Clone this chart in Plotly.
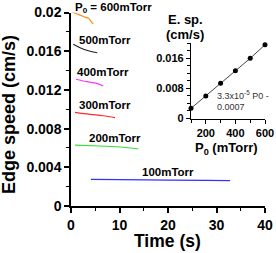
import plotly.graph_objects as go

# ---- data ----
t600 = [0.1, 1.0, 2.0, 3.0, 3.6, 4.1, 4.6]
v600 = [0.0201, 0.0199, 0.0197, 0.0195, 0.0194, 0.0191, 0.0188]
t500 = [0.47, 1.86, 3.57, 5.42]
v500 = [0.01671, 0.01636, 0.01605, 0.01584]
t400 = [1.03, 3.24, 5.3, 6.66]
v400 = [0.01310, 0.01285, 0.01268, 0.01240]
t300 = [0.82, 3.92, 6.66, 9.07]
v300 = [0.00968, 0.00948, 0.00933, 0.00913]
t200 = [0.82, 5.98, 10.1, 13.9]
v200 = [0.00630, 0.00620, 0.00610, 0.00589]
t100 = [4.1, 10.0, 20.0, 28.0, 32.8]
v100 = [0.00276, 0.00272, 0.00268, 0.00265, 0.00262]

pressures = [100, 200, 300, 400, 500, 600]
speeds = [0.0027, 0.0060, 0.0094, 0.0127, 0.0160, 0.0196]

main_yticks = [0, 0.004, 0.008, 0.012, 0.016, 0.02]
main_yticktext = ["0", "0.004", "0.008", "0.012", "0.016", "0.02"]
main_xticks = [0, 10, 20, 30, 40]
inset_yticks = [0, 0.008, 0.016]
inset_yticktext = ["0", "0.008", "0.016"]
inset_xticks = [200, 400, 600]

W, H = 276, 253
def px(x):
    return x / W
def py(y):
    return (H - y) / H

FONT = "Liberation Sans"

fig = go.Figure()
series = [
    (t600, v600, "#ff8c1a"),
    (t500, v500, "#222222"),
    (t400, v400, "#ff33ff"),
    (t300, v300, "#ff2a2a"),
    (t200, v200, "#33e033"),
    (t100, v100, "#3333ff"),
]
for t, v, c in series:
    fig.add_trace(go.Scatter(x=t, y=v, mode="lines", line=dict(color=c, width=1.2),
                             line_shape="spline", xaxis="x", yaxis="y", showlegend=False,
                             cliponaxis=False))

fig.add_trace(go.Scatter(x=pressures, y=speeds, mode="lines+markers",
                         line=dict(color="#444444", width=1),
                         marker=dict(color="black", size=5),
                         xaxis="x2", yaxis="y2", showlegend=False, cliponaxis=False))

tickfont_main = dict(family=FONT, size=14, color="black", weight="bold")
tickfont_inset = dict(family=FONT, size=11, color="black", weight="bold")

fig.update_layout(
    width=W, height=H,
    margin=dict(l=0, r=0, t=0, b=0, autoexpand=False),
    paper_bgcolor="white", plot_bgcolor="rgba(0,0,0,0)",
    showlegend=False,
    xaxis=dict(domain=[px(71), px(265)], range=[0, 40], anchor="y", automargin=False,
               showline=True, linecolor="black", linewidth=1.5,
               showgrid=False, zeroline=False,
               ticks="outside", ticklen=5, tickwidth=1.5, tickcolor="black",
               tickvals=main_xticks, tickfont=tickfont_main,
               minor=dict(dtick=5, tick0=0, ticks="outside", ticklen=3, tickwidth=1.2, tickcolor="black")),
    yaxis=dict(domain=[py(206), py(12.5)], range=[0, 0.02], anchor="x", automargin=False,
               showline=True, linecolor="black", linewidth=1.5,
               showgrid=False, zeroline=False,
               ticks="outside", ticklen=5, tickwidth=1.5, tickcolor="black",
               tickvals=main_yticks, ticktext=main_yticktext, tickfont=tickfont_main,
               minor=dict(dtick=0.002, tick0=0, ticks="outside", ticklen=3, tickwidth=1.2, tickcolor="black")),
    xaxis2=dict(domain=[px(191), px(265)], range=[100, 600], anchor="y2", automargin=False,
                showline=True, linecolor="black", linewidth=1.2,
                showgrid=False, zeroline=False,
                ticks="outside", ticklen=4, tickwidth=1.2, tickcolor="black",
                tickvals=inset_xticks, tickfont=tickfont_inset,
                minor=dict(dtick=100, tick0=100, ticks="outside", ticklen=3, tickwidth=1, tickcolor="black")),
    yaxis2=dict(domain=[py(118.5), py(43.3)], range=[0, 0.02], anchor="x2", automargin=False,
                showline=True, linecolor="black", linewidth=1.2,
                showgrid=False, zeroline=False,
                ticks="outside", ticklen=4, tickwidth=1.2, tickcolor="black",
                tickvals=inset_yticks, ticktext=inset_yticktext, tickfont=tickfont_inset,
                minor=dict(dtick=0.002, tick0=0, ticks="outside", ticklen=2.5, tickwidth=1, tickcolor="black")),
)

def ann(text, x, y, size, xanchor="left", bold=True, color="black", angle=0, align="left"):
    fig.add_annotation(text=text, x=px(x), y=py(y), xref="paper", yref="paper",
                       xanchor=xanchor, yanchor="middle", showarrow=False, textangle=angle,
                       align=align,
                       font=dict(family=FONT, size=size, color=color,
                                 weight="bold" if bold else "normal"))

ann("P<sub>0</sub> = 600mTorr", 73, 8, 11.5)
ann("500mTorr", 77, 40, 11.5)
ann("400mTorr", 75, 72, 11.5)
ann("300mTorr", 77, 105, 11.5)
ann("200mTorr", 87, 138, 11.5)
ann("100mTorr", 140, 172, 11.5)

ann("Time (s)", 167, 241, 17.5, xanchor="center")
ann("Edge speed (cm/s)", 9, 115, 18, xanchor="center", angle=-90)

ann("E. sp.", 185, 20, 13, xanchor="center")
ann("(cm/s)", 185, 34, 13, xanchor="center")
ann("P<sub>0</sub> (mTorr)", 226, 148, 13, xanchor="center")
ann("3.3x10<sup>-5</sup> P0 -<br>0.0007", 215, 100, 9, bold=False, color="#333333")

fig.write_html("out.html", config={"displayModeBar": False},
               post_script="document.body.style.margin='0';document.body.style.padding='0';document.body.style.overflow='hidden';")
